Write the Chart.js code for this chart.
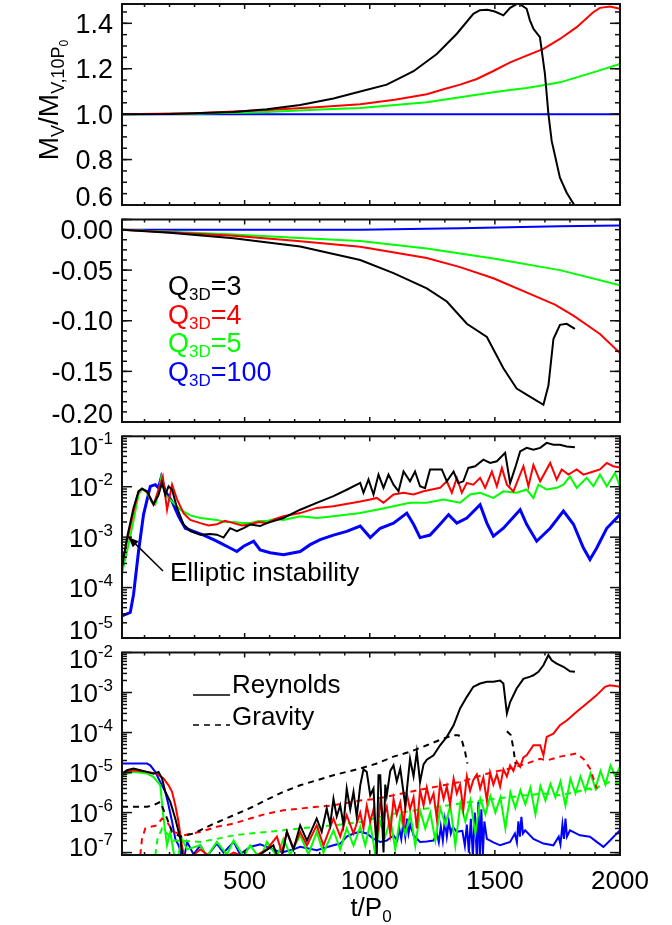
<!DOCTYPE html>
<html>
<head>
<meta charset="utf-8">
<script src="https://cdn.jsdelivr.net/npm/chart.js@4.4.1/dist/chart.umd.min.js"></script>
<style>
  html, body { margin: 0; padding: 0; background: #fff; }
  #wrap { position: relative; width: 672px; height: 925px; }
  canvas { position: absolute; left: 0; }
</style>
</head>
<body>
<div id="wrap">
  <canvas id="c1" width="672" height="215" style="top:0px"></canvas>
  <canvas id="c2" width="672" height="215" style="top:215px"></canvas>
  <canvas id="c3" width="672" height="215" style="top:430px"></canvas>
  <canvas id="c4" width="672" height="280" style="top:645px"></canvas>
</div>
<script>
// ---- tick labels ----
const timeTicks = [500, 1000, 1500, 2000];
const massTicks = [0.6, 0.8, 1.0, 1.2, 1.4];
const massTickLabels = ['0.6', '0.8', '1.0', '1.2', '1.4'];
const roTicks = [0, -0.05, -0.10, -0.15, -0.20];
const roTickLabels = ['0.00', '-0.05', '-0.10', '-0.15', '-0.20'];
const vzDecades = [-5, -4, -3, -2, -1];
const alphaDecades = [-7, -6, -5, -4, -3, -2];
const qLabels = ['3', '4', '5', '100'];

// ---- panel 1: M_V / M_V,10P0 ----
const massT3 = [10, 200, 456, 589, 722, 855, 962, 1068, 1175, 1268, 1348, 1414, 1440, 1470, 1500, 1534, 1561, 1594, 1627, 1640, 1654, 1680, 1700, 1714, 1727, 1760, 1787, 1820];
const mass3 = [1.0, 1.001, 1.01, 1.022, 1.04, 1.069, 1.10, 1.13, 1.189, 1.265, 1.354, 1.442, 1.458, 1.46, 1.452, 1.435, 1.468, 1.489, 1.464, 1.413, 1.376, 1.339, 1.177, 1.0, 0.882, 0.72, 0.654, 0.595];
const massT4 = [10, 300, 589, 800, 962, 1100, 1228, 1295, 1361, 1428, 1494, 1561, 1627, 1694, 1760, 1827, 1893, 1920, 1960, 2000];
const mass4 = [1.0, 1.004, 1.018, 1.032, 1.044, 1.063, 1.088, 1.11, 1.13, 1.155, 1.19, 1.228, 1.258, 1.287, 1.331, 1.383, 1.449, 1.468, 1.474, 1.464];
const massT5 = [10, 300, 589, 800, 962, 1228, 1494, 1561, 1627, 1694, 1760, 1827, 1893, 2000];
const mass5 = [1.0, 1.002, 1.01, 1.02, 1.027, 1.052, 1.096, 1.106, 1.115, 1.127, 1.14, 1.162, 1.184, 1.221];
const massT100 = [10, 2000];
const mass100 = [1.0, 1.0];

// ---- panel 2: <Ro> ----
const roT3 = [10, 200, 456, 722, 962, 1095, 1228, 1308, 1388, 1468, 1534, 1587, 1640, 1694, 1714, 1734, 1760, 1787, 1820];
const ro3 = [-0.0102, -0.013, -0.0185, -0.0267, -0.040, -0.053, -0.068, -0.081, -0.103, -0.116, -0.147, -0.167, -0.175, -0.183, -0.164, -0.118, -0.104, -0.103, -0.108];
const roT4 = [10, 456, 700, 962, 1228, 1361, 1494, 1654, 1740, 1814, 1920, 2000];
const ro4 = [-0.0102, -0.016, -0.021, -0.027, -0.038, -0.047, -0.058, -0.075, -0.084, -0.095, -0.113, -0.132];
const roT5 = [10, 456, 700, 962, 1228, 1494, 1760, 2000];
const ro5 = [-0.0102, -0.0147, -0.018, -0.0213, -0.0286, -0.0385, -0.05, -0.065];
const roT100 = [10, 500, 962, 1361, 1760, 2000];
const ro100 = [-0.0102, -0.0102, -0.0102, -0.0086, -0.0066, -0.0059];

// ---- panel 3: <vz^2>^1/2 / cs ----
const vzT3 = [10, 30, 56, 76, 90, 110, 136, 156, 170, 183, 196, 210, 230, 256, 283, 323, 363, 389, 416, 442, 469, 496, 522, 562, 589, 655, 722, 788, 855, 908, 962, 975, 995, 1015, 1035, 1055, 1075, 1095, 1115, 1135, 1161, 1181, 1201, 1221, 1241, 1268, 1288, 1308, 1335, 1354, 1374, 1394, 1421, 1454, 1481, 1508, 1541, 1561, 1581, 1601, 1627, 1654, 1681, 1707, 1734, 1760, 1787, 1820];
const vz3 = [2.5e-4, 9.8e-4, 3.8e-3, 8.1e-3, 9.1e-3, 8.1e-3, 4.5e-3, 6.9e-3, 1.2e-2, 6.9e-3, 1.02e-2, 8.7e-3, 3.8e-3, 1.78e-3, 1.32e-3, 1.12e-3, 1.15e-3, 1.12e-3, 9.8e-4, 1.51e-3, 1.32e-3, 1.51e-3, 1.78e-3, 1.66e-3, 1.9e-3, 2.4e-3, 3.5e-3, 4.8e-3, 6.5e-3, 8.7e-3, 1.19e-2, 7.6e-3, 1.39e-2, 7.0e-3, 1.74e-2, 9.5e-3, 1.74e-2, 1.1e-2, 8.1e-3, 2.0e-2, 1.28e-2, 2.0e-2, 1.02e-2, 9.4e-3, 2.2e-2, 2.2e-2, 2.2e-2, 1.28e-2, 2.0e-2, 1.18e-2, 1.28e-2, 2.36e-2, 2.55e-2, 3.45e-2, 2.96e-2, 3.2e-2, 4.7e-2, 1.18e-2, 2.36e-2, 5.0e-2, 5.9e-2, 5.4e-2, 5.9e-2, 7.4e-2, 6.8e-2, 6.8e-2, 6.3e-2, 6.05e-2];
const vzT4 = [10, 30, 56, 76, 90, 110, 136, 173, 190, 210, 230, 256, 283, 323, 356, 389, 422, 456, 489, 522, 556, 589, 622, 655, 722, 788, 855, 962, 1002, 1028, 1055, 1095, 1135, 1175, 1215, 1248, 1281, 1308, 1328, 1348, 1368, 1388, 1414, 1441, 1461, 1488, 1508, 1528, 1548, 1574, 1614, 1634, 1654, 1681, 1721, 1747, 1767, 1794, 1827, 1854, 1894, 1920, 1947, 1973, 2000];
const vz4 = [2.9e-4, 8.3e-4, 3.2e-3, 8.1e-3, 9.1e-3, 7.9e-3, 4.4e-3, 1.6e-2, 3.5e-3, 1.1e-2, 5.6e-3, 3.0e-3, 2.2e-3, 1.9e-3, 1.7e-3, 1.8e-3, 2.1e-3, 1.9e-3, 1.7e-3, 1.8e-3, 2.0e-3, 1.9e-3, 2.3e-3, 2.6e-3, 3.0e-3, 3.8e-3, 4.1e-3, 5.1e-3, 5.6e-3, 6.0e-3, 4.8e-3, 7.0e-3, 7.6e-3, 7.0e-3, 8.1e-3, 8.8e-3, 9.5e-3, 1.28e-2, 7.6e-3, 1.5e-2, 7.6e-3, 1.19e-2, 1.1e-2, 1.5e-2, 9.5e-3, 2.0e-2, 1.02e-2, 2.36e-2, 1.1e-2, 8.1e-3, 2.55e-2, 1.02e-2, 2.7e-2, 1.28e-2, 2.96e-2, 1.39e-2, 2.2e-2, 1.74e-2, 2.2e-2, 1.74e-2, 2.0e-2, 2.2e-2, 2.96e-2, 2.55e-2, 2.4e-2];
const vzT5 = [10, 30, 56, 76, 90, 110, 130, 143, 156, 167, 183, 210, 243, 283, 323, 356, 389, 422, 456, 489, 522, 556, 589, 622, 655, 722, 788, 855, 962, 1028, 1095, 1161, 1228, 1295, 1361, 1401, 1441, 1494, 1534, 1587, 1627, 1654, 1674, 1707, 1747, 1774, 1800, 1827, 1867, 1894, 1920, 1947, 1980, 2000];
const vz5 = [1.95e-4, 5.2e-4, 2.1e-3, 6.9e-3, 9.1e-3, 7.6e-3, 4.8e-3, 4.4e-3, 7.6e-3, 1.54e-2, 6.9e-3, 5.1e-3, 3.5e-3, 2.7e-3, 2.4e-3, 2.3e-3, 2.2e-3, 2.0e-3, 2.0e-3, 1.9e-3, 1.9e-3, 2.1e-3, 2.1e-3, 2.3e-3, 2.2e-3, 2.6e-3, 2.4e-3, 2.6e-3, 3.0e-3, 3.5e-3, 4.1e-3, 4.8e-3, 4.8e-3, 5.6e-3, 4.8e-3, 7.0e-3, 7.6e-3, 6.0e-3, 8.1e-3, 7.6e-3, 8.8e-3, 6.0e-3, 1.1e-2, 8.8e-3, 9.5e-3, 1.1e-2, 1.6e-2, 9.5e-3, 1.5e-2, 1.02e-2, 1.74e-2, 1.02e-2, 1.88e-2, 1.02e-2];
const vzT100 = [10, 43, 56, 76, 96, 123, 143, 156, 167, 183, 210, 236, 263, 296, 336, 376, 402, 442, 469, 496, 536, 562, 602, 655, 722, 762, 802, 855, 908, 962, 1002, 1042, 1095, 1148, 1175, 1201, 1241, 1281, 1315, 1348, 1388, 1441, 1468, 1494, 1534, 1601, 1627, 1667, 1721, 1774, 1814, 1854, 1880, 1907, 1947, 2000];
const vz100 = [2.75e-5, 3.2e-5, 7.2e-5, 5.2e-4, 2.8e-3, 1.02e-2, 1.1e-2, 9.5e-3, 1.54e-2, 8.1e-3, 5.1e-3, 2.6e-3, 1.5e-3, 1.3e-3, 1.1e-3, 8.9e-4, 7.7e-4, 6.1e-4, 5.2e-4, 6.6e-4, 8.3e-4, 5.6e-4, 4.9e-4, 4.5e-4, 5.2e-4, 7.1e-4, 8.9e-4, 1.1e-3, 1.3e-3, 1.66e-3, 9.8e-4, 1.5e-3, 1.9e-3, 3.0e-3, 1.8e-3, 9.8e-4, 1.1e-3, 1.8e-3, 2.8e-3, 1.9e-3, 2.4e-3, 4.4e-3, 1.9e-3, 1.05e-3, 1.5e-3, 3.5e-3, 1.8e-3, 8.3e-4, 1.5e-3, 3.3e-3, 1.8e-3, 6.1e-4, 3.6e-4, 6.1e-4, 1.5e-3, 2.8e-3];

// ---- panel 4: <alpha_R,G> (Reynolds solid, Gravity dashed) ----
const reyT3 = [10, 30, 56, 83, 110, 136, 156, 170, 183, 203, 223, 243, 256, 323, 456, 562, 615, 642, 669, 695, 722, 749, 788, 808, 828, 842, 855, 868, 882, 895, 908, 922, 935, 948, 962, 975, 988, 1002, 1015, 1028, 1035, 1042, 1055, 1062, 1068, 1082, 1095, 1108, 1122, 1142, 1161, 1175, 1188, 1201, 1215, 1228, 1255, 1281, 1308, 1335, 1361, 1388, 1414, 1441, 1468, 1494, 1521, 1534, 1548, 1561, 1587, 1614, 1641, 1654, 1674, 1694, 1714, 1727, 1747, 1774, 1800, 1820];
const rey3 = [9.4e-6, 1.14e-5, 1.26e-5, 1.14e-5, 1.04e-5, 9.4e-6, 1.04e-5, 7.1e-6, 3.3e-6, 1.85e-6, 7.1e-7, 2.2e-7, 5e-8, 6e-8, 5e-8, 9e-8, 1.52e-7, 5e-8, 3.3e-7, 1.2e-7, 4.8e-7, 2.0e-7, 7.1e-7, 3.3e-7, 1.26e-6, 5e-7, 2.2e-6, 8e-7, 1.52e-6, 5e-7, 4.0e-6, 1.2e-6, 3.3e-6, 8e-7, 4.8e-6, 1.2e-5, 1.04e-5, 2.7e-6, 4.0e-6, 8.6e-8, 8.6e-6, 8.6e-6, 1e-7, 5e-6, 2.7e-6, 1.1e-5, 1.52e-5, 6e-6, 1.26e-5, 1.5e-6, 2.2e-5, 8e-6, 3.3e-5, 5.8e-6, 1.6e-5, 2.1e-5, 2.7e-5, 4.8e-5, 7.8e-5, 1.52e-4, 4.0e-4, 7.8e-4, 1.39e-3, 1.68e-3, 1.85e-3, 1.85e-3, 2.0e-3, 1.68e-3, 3.0e-4, 5.8e-4, 1.26e-3, 2.2e-3, 2.5e-3, 2.7e-3, 3.3e-3, 4.8e-3, 8.6e-3, 6.4e-3, 5.3e-3, 4.4e-3, 3.4e-3, 3.3e-3];
const gravT3 = [10, 56, 110, 136, 163, 190, 210, 243, 296, 363, 456, 522, 589, 655, 722, 788, 855, 908, 962, 1028, 1095, 1161, 1228, 1295, 1335, 1355, 1368, 1381, 1390];
const grav3 = [1.39e-6, 1.39e-6, 1.39e-6, 1.52e-6, 1.85e-6, 7.1e-7, 3.3e-7, 2.5e-7, 3.0e-7, 4.8e-7, 8.6e-7, 1.3e-6, 2.1e-6, 3.3e-6, 4.8e-6, 6.4e-6, 8.6e-6, 1.04e-5, 1.26e-5, 1.68e-5, 2.5e-5, 3.3e-5, 4.8e-5, 7.1e-5, 8.6e-5, 8.6e-5, 6.4e-5, 3.3e-5, 1.68e-5];
const gravT3b = [1548, 1564, 1574, 1582];
const grav3b = [1.08e-4, 8.6e-5, 4.0e-5, 1.68e-5];
const reyT4 = [10, 56, 110, 150, 176, 196, 210, 223, 236, 249, 263, 323, 389, 456, 522, 589, 629, 649, 669, 695, 722, 749, 788, 815, 855, 882, 908, 935,
  962, 975, 988, 1002, 1015, 1028, 1042, 1055, 1068, 1082, 1095, 1108, 1122, 1135, 1148, 1161, 1175, 1188, 1201, 1215, 1228, 1241, 1255, 1268, 1281, 1295, 1308, 1321, 1335, 1348, 1361, 1374, 1388, 1401, 1414, 1428, 1441, 1454, 1468, 1481, 1494, 1508, 1521, 1534, 1548, 1561, 1574, 1587, 1601, 1614, 1627,
  1654, 1681, 1694, 1707, 1734, 1760, 1787, 1827, 1867, 1907, 1940, 1960, 1980, 2000];
const rey4 = [9.4e-6, 1.14e-5, 1.04e-5, 9.4e-6, 7.1e-6, 4.8e-6, 3.3e-6, 1.52e-6, 5.8e-7, 1.52e-7, 6e-8, 1.2e-7, 6e-8, 1e-7, 7e-8, 1.2e-7, 2.5e-7, 1e-7, 3.3e-7, 1.3e-7, 3.3e-7, 1.5e-7, 4.8e-7, 1.5e-7, 7.1e-7, 2.5e-7, 8.6e-7, 3e-7,
  1.0e-6, 4e-7, 1.5e-6, 6e-7, 1.2e-6, 2e-7, 1.8e-6, 8e-7, 1.4e-6, 3e-7, 2.2e-6, 9e-7, 1.8e-6, 5e-7, 3.0e-6, 1.2e-6, 2.4e-6, 4e-7, 3.6e-6, 1.5e-6, 4.2e-6, 1.8e-6, 3.0e-6, 7e-7, 5.5e-6, 2.2e-6, 4.5e-6, 1.6e-6, 7.0e-6, 3.0e-6, 5.0e-6, 1.2e-6, 8.0e-6, 3.5e-6, 6.5e-6, 9.0e-6, 4.0e-6, 7.5e-6, 2.0e-6, 1.0e-5, 5.0e-6, 9.0e-6, 4.5e-6, 1.2e-5, 8.0e-6, 1.5e-5, 1.1e-5, 1.9e-5, 1.4e-5, 2.4e-5, 2.7e-5,
  4.8e-5, 4.8e-5, 2.7e-5, 7.8e-5, 9.4e-5, 1.52e-4, 2.0e-4, 3.3e-4, 5.3e-4, 8.6e-4, 1.39e-3, 1.52e-3, 1.45e-3, 1.39e-3];
const gravT4 = [83, 90, 103, 123, 150, 170, 190, 216, 256, 323, 389, 456, 522, 589, 655, 722, 788, 855, 962, 1028, 1095, 1161, 1228, 1295, 1361, 1428, 1494, 1561, 1627, 1681, 1707, 1760, 1827, 1854, 1880, 1894, 1907];
const grav4 = [8.6e-8, 2.2e-7, 4.0e-7, 4.4e-7, 4.8e-7, 7.1e-7, 5.8e-7, 3.3e-7, 2.7e-7, 3.3e-7, 4.4e-7, 5.3e-7, 7.1e-7, 9.4e-7, 1.14e-6, 1.26e-6, 1.39e-6, 1.52e-6, 2.0e-6, 2.2e-6, 2.7e-6, 3.3e-6, 4.0e-6, 4.8e-6, 5.8e-6, 7.8e-6, 1.04e-5, 1.26e-5, 1.68e-5, 2.2e-5, 2.0e-5, 2.5e-5, 3.0e-5, 2.2e-5, 1.26e-5, 7.1e-6, 4.0e-6];
const reyT5 = [10, 56, 110, 136, 163, 176, 190, 203, 216, 230, 249, 270, 323, 349, 389, 429, 456, 496, 522, 562, 589, 629, 655, 682, 722, 755, 788, 815, 855, 882, 908, 935,
  962, 982, 1002, 1022, 1042, 1062, 1082, 1102, 1122, 1142, 1162, 1182, 1202, 1222, 1242, 1262, 1282, 1302, 1322, 1342, 1362, 1382, 1402, 1422, 1442, 1462, 1482, 1502, 1522, 1542, 1562, 1582, 1602, 1622, 1642, 1662, 1682, 1702, 1722, 1742, 1762, 1782, 1802, 1822, 1842, 1862, 1882, 1902, 1922, 1942, 1962, 1982, 2000];
const rey5 = [8.6e-6, 1.04e-5, 9.4e-6, 7.8e-6, 4.8e-6, 7.1e-7, 1.52e-7, 3.3e-7, 1.04e-7, 6e-8, 2.2e-7, 1.2e-7, 1.52e-7, 8e-8, 1.85e-7, 9e-8, 2.0e-7, 8e-8, 1.52e-7, 7e-8, 1.85e-7, 8e-8, 2.2e-7, 9e-8, 2.7e-7, 9e-8, 3.3e-7, 1e-7, 3.6e-7, 1.2e-7, 4e-7, 1.5e-7,
  4.4e-7, 1.5e-7, 5.5e-7, 9e-8, 6e-7, 2.5e-7, 7e-7, 1.2e-7, 8e-7, 3e-7, 9e-7, 1.5e-7, 1.1e-6, 4e-7, 1.0e-6, 2e-7, 1.3e-6, 5e-7, 1.5e-6, 1.5e-7, 1.7e-6, 6e-7, 2.0e-6, 3e-7, 2.2e-6, 9e-7, 2.6e-6, 1.0e-6, 2.4e-6, 4e-7, 3.2e-6, 1.3e-6, 3.6e-6, 1.6e-6, 4.2e-6, 9e-7, 4.6e-6, 2.0e-6, 5.2e-6, 2.4e-6, 6.0e-6, 1.5e-6, 7.0e-6, 3.0e-6, 8.0e-6, 3.5e-6, 9.5e-6, 4.0e-6, 1.1e-5, 5.0e-6, 1.5e-5, 8.0e-6, 1.4e-5];
const gravT5 = [143, 152, 170, 190, 216, 323, 389, 456, 522, 589, 655, 722, 788, 855, 962, 1095, 1228, 1361, 1494, 1627, 1694, 1760, 1827, 1880, 1894, 1920, 1960, 2000];
const grav5 = [8.6e-8, 2.2e-7, 4.0e-7, 3.0e-7, 2.0e-7, 1.85e-7, 2.2e-7, 2.7e-7, 3.0e-7, 3.3e-7, 3.6e-7, 4.0e-7, 4.4e-7, 4.8e-7, 5.8e-7, 9.4e-7, 1.26e-6, 1.68e-6, 2.2e-6, 2.7e-6, 3.0e-6, 2.7e-6, 3.3e-6, 4.0e-6, 3.3e-6, 4.8e-6, 5.8e-6, 5.3e-6];
const reyT100 = [10, 56, 110, 123, 143, 163, 183, 196, 210, 223, 236, 256, 270, 296, 323, 349, 389, 416, 456, 482, 522, 562, 589, 629, 655, 695, 722, 788, 855, 882, 908, 935,
  962, 988, 1015, 1042, 1068, 1095, 1110, 1118, 1126, 1134, 1142, 1148, 1155, 1162, 1175, 1201, 1228, 1255, 1268, 1276, 1284, 1292, 1300, 1308, 1316, 1324, 1332, 1348, 1370, 1380, 1388, 1396, 1404, 1412, 1420, 1428, 1434, 1440, 1446, 1452, 1458, 1468, 1494, 1521, 1561, 1580, 1588, 1594, 1600, 1606, 1612, 1621, 1654, 1694, 1734, 1755, 1762, 1770, 1776, 1782, 1788, 1800, 1840, 1880, 1907, 1934, 1960, 1980, 2000];
const rey100 = [1.68e-5, 1.68e-5, 1.68e-5, 1.52e-5, 1.04e-5, 5.8e-6, 3.3e-6, 1.52e-6, 6e-7, 2.2e-7, 1.52e-7, 6e-8, 1.85e-7, 9e-8, 1.52e-7, 8e-8, 1.68e-7, 1e-7, 1.85e-7, 9e-8, 1.39e-7, 1.6e-7, 1.39e-7, 1.1e-7, 1.04e-7, 1.2e-7, 1.39e-7, 1.14e-7, 1.52e-7, 1.68e-7, 2.5e-7, 3.0e-7,
  3.3e-7, 3.0e-7, 2.2e-7, 1.85e-7, 2.0e-7, 2.7e-7, 2e-7, 4e-7, 2.2e-7, 5.5e-7, 2.5e-7, 7.1e-7, 3e-7, 5e-7, 2.7e-7, 1.85e-7, 1.9e-7, 2.0e-7, 3e-7, 1.8e-7, 4.5e-7, 2e-7, 6.5e-7, 2.5e-7, 6e-7, 3e-7, 4.4e-7, 3.3e-7, 3.5e-7, 1.5e-7, 5e-7, 1e-7, 7e-7, 8e-8, 1.0e-6, 7e-8, 1.85e-6, 8e-8, 1.2e-6, 9e-8, 6e-7, 2.2e-7, 1.8e-7, 1.52e-7, 1.85e-7, 3e-7, 1.8e-7, 6e-7, 2.5e-7, 7.8e-7, 3e-7, 3.6e-7, 2.2e-7, 1.68e-7, 1.52e-7, 2.5e-7, 1.6e-7, 5e-7, 2.2e-7, 7.1e-7, 2.5e-7, 3.6e-7, 2.7e-7, 2.5e-7, 1.85e-7, 1.39e-7, 2.0e-7, 2.7e-7, 3.6e-7];

const BLACK = '#000000', RED = '#ff0000', GREEN = '#00ff00', BLUE = '#0000ff';
const FONT = '"Liberation Sans", Arial, Helvetica, sans-serif';

function zip(ts, vs) { return ts.map((t, i) => ({ x: t, y: vs[i] })); }

function line(ts, vs, color, dashed, width) {
  return {
    data: zip(ts, vs),
    borderColor: color,
    borderWidth: width || 2,
    borderDash: dashed ? [6, 5] : [],
    pointRadius: 0,
    tension: 0
  };
}

// draw text made of parts {t, s, dy, c, keep}
function richWidth(ctx, parts) {
  let w = 0;
  parts.forEach(p => { ctx.font = p.s + 'px ' + FONT; if (!p.keep) w += ctx.measureText(p.t).width; });
  return w;
}
function drawRich(ctx, parts, x, y, align) {
  const w = richWidth(ctx, parts);
  let cx = align === 'right' ? x - w : align === 'center' ? x - w / 2 : x;
  ctx.textAlign = 'left';
  ctx.textBaseline = 'alphabetic';
  parts.forEach(p => {
    ctx.font = p.s + 'px ' + FONT;
    ctx.fillStyle = p.c || '#000';
    ctx.fillText(p.t, cx, y + (p.dy || 0));
    if (!p.keep) cx += ctx.measureText(p.t).width;
  });
}

function seg(ctx, x1, y1, x2, y2) {
  ctx.beginPath(); ctx.moveTo(x1, y1); ctx.lineTo(x2, y2); ctx.stroke();
}

// IDL-like box: inward ticks on all sides, labels, rotated title
const framePlugin = {
  id: 'frame',
  afterDatasetsDraw(chart, args, o) {
    const { ctx, chartArea: a, scales: { x, y } } = chart;
    ctx.save();
    ctx.strokeStyle = '#111';
    ctx.lineWidth = 1.5;
    for (let t = 100; t <= 2000; t += 100) {
      const px = x.getPixelForValue(t);
      const L = t % 500 === 0 ? 5 : 3;
      seg(ctx, px, a.bottom, px, a.bottom - L);
      seg(ctx, px, a.top, px, a.top + L);
    }
    o.yMinor.forEach(v => {
      const py = y.getPixelForValue(v);
      seg(ctx, a.left, py, a.left + 5, py);
      seg(ctx, a.right, py, a.right - 5, py);
    });
    o.yMajor.forEach(v => {
      const py = y.getPixelForValue(v);
      seg(ctx, a.left, py, a.left + 10, py);
      seg(ctx, a.right, py, a.right - 10, py);
    });
    ctx.lineWidth = 2;
    ctx.strokeRect(a.left, a.top, a.right - a.left, a.bottom - a.top);

    o.yLabels.forEach(l => {
      let py = y.getPixelForValue(l.v);
      py = Math.min(Math.max(py, a.top + o.clampTop), a.bottom - 9);
      drawRich(ctx, l.parts, a.left - 9, py + 9.5, 'right');
    });

    if (o.xLabels) {
      timeTicks.forEach(t => {
        drawRich(ctx, [{ t: String(t), s: 26 }], x.getPixelForValue(t), a.bottom + 34, 'center');
      });
      drawRich(ctx, [{ t: 't/P', s: 26 }, { t: '0', s: 17, dy: 6 }], (a.left + a.right) / 2, a.bottom + 61, 'center');
    }

    ctx.save();
    ctx.translate(o.titleX, o.titleY);
    ctx.rotate(-Math.PI / 2);
    drawRich(ctx, o.title, 0, 0, 'center');
    ctx.restore();

    if (o.extra) o.extra(chart);
    ctx.restore();
  }
};

function linTicks(min, max, step) {
  const out = [];
  for (let v = min; v <= max + 1e-9; v += step) out.push(+v.toFixed(4));
  return out;
}
function logMinor(d0, d1) {
  const out = [];
  for (let d = d0; d < d1; d++) for (let k = 2; k <= 9; k++) out.push(k * Math.pow(10, d));
  return out;
}
function expLabel(d) {
  return { v: Math.pow(10, d), parts: [{ t: '10', s: 26 }, { t: '-' + (-d), s: 17, dy: -11 }] };
}

function makeChart(id, pad, yType, yMin, yMax, datasets, frame) {
  return new Chart(document.getElementById(id), {
    type: 'line',
    data: { datasets },
    options: {
      responsive: false,
      animation: false,
      events: [],
      layout: { padding: pad },
      plugins: { legend: { display: false }, tooltip: { enabled: false }, frame },
      scales: {
        x: { type: 'linear', min: 10, max: 2000, display: false },
        y: { type: yType, min: yMin, max: yMax, display: false }
      }
    },
    plugins: [framePlugin]
  });
}

// panel 1
makeChart('c1', { left: 122, right: 52, top: 4, bottom: 10 }, 'linear', 0.6, 1.485, [
  line(massT3, mass3, BLACK),
  line(massT4, mass4, RED),
  line(massT5, mass5, GREEN),
  line(massT100, mass100, BLUE)
], {
  yMajor: massTicks,
  yMinor: linTicks(0.6, 1.48, 0.05),
  yLabels: massTicks.map((v, i) => ({ v, parts: [{ t: massTickLabels[i], s: 27 }] })),
  clampTop: 10,
  titleX: 58, titleY: 100,
  title: [{ t: 'M', s: 28 }, { t: 'V', s: 18, dy: 6 }, { t: '/M', s: 28 }, { t: 'V,10P', s: 18, dy: 6 }, { t: '0', s: 12, dy: 10 }]
});

// panel 2
makeChart('c2', { left: 122, right: 52, top: 4.5, bottom: 8 }, 'linear', -0.2, 0, [
  line(roT3, ro3, BLACK),
  line(roT4, ro4, RED),
  line(roT5, ro5, GREEN),
  line(roT100, ro100, BLUE)
], {
  yMajor: roTicks,
  yMinor: linTicks(-0.2, 0, 0.01),
  yLabels: roTicks.map((v, i) => ({ v, parts: [{ t: roTickLabels[i], s: 27 }] })),
  clampTop: 10,
  titleX: 35, titleY: 325,
  title: [{ t: '<Ro>', s: 28 }],
  extra(chart) {
    const ctx = chart.ctx;
    const colors = [BLACK, RED, GREEN, BLUE];
    qLabels.forEach((q, i) => {
      drawRich(ctx, [
        { t: 'Q', s: 27, c: colors[i] },
        { t: '3D', s: 17, dy: 5, c: colors[i] },
        { t: '=' + q, s: 27, c: colors[i] }
      ], 168, 80 + i * 28.5, 'left');
    });
  }
});

// panel 3
makeChart('c3', { left: 122, right: 52, top: 6.3, bottom: 7 }, 'logarithmic', 1e-5, 1e-1, [
  line(vzT3, vz3, BLACK),
  line(vzT4, vz4, RED),
  line(vzT5, vz5, GREEN),
  line(vzT100, vz100, BLUE, false, 3)
], {
  yMajor: vzDecades.map(d => Math.pow(10, d)),
  yMinor: logMinor(-5, -1),
  yLabels: vzDecades.map(expLabel),
  clampTop: 9,
  titleX: 53, titleY: 522,
  title: [{ t: '<v', s: 28 }, { t: '2', s: 17, dy: -12, keep: true }, { t: 'z', s: 17, dy: 6 },
          { t: '>', s: 28 }, { t: '1/2', s: 17, dy: -12 }, { t: '/c', s: 28 }, { t: 's', s: 17, dy: 6 }],
  extra(chart) {
    const ctx = chart.ctx;
    const tipX = chart.scales.x.getPixelForValue(36);
    const tipY = chart.scales.y.getPixelForValue(1e-3);
    const sx = 163, sy = 141;
    ctx.strokeStyle = '#000';
    ctx.lineWidth = 1.5;
    seg(ctx, sx, sy, tipX, tipY);
    const ang = Math.atan2(tipY - sy, tipX - sx);
    ctx.beginPath();
    ctx.moveTo(tipX, tipY);
    ctx.lineTo(tipX - 11 * Math.cos(ang - 0.4), tipY - 11 * Math.sin(ang - 0.4));
    ctx.lineTo(tipX - 11 * Math.cos(ang + 0.4), tipY - 11 * Math.sin(ang + 0.4));
    ctx.closePath();
    ctx.fillStyle = '#000';
    ctx.fill();
    drawRich(ctx, [{ t: 'Elliptic instability', s: 26 }], 170, 151, 'left');
  }
});

// panel 4
makeChart('c4', { left: 122, right: 52, top: 7.5, bottom: 70 }, 'logarithmic', 8.7e-8, 1e-2, [
  line(reyT3, rey3, BLACK),
  line(gravT3, grav3, BLACK, true),
  line(gravT3b, grav3b, BLACK, true),
  line(reyT4, rey4, RED),
  line(gravT4, grav4, RED, true),
  line(reyT5, rey5, GREEN),
  line(gravT5, grav5, GREEN, true),
  line(reyT100, rey100, BLUE)
], {
  yMajor: alphaDecades.map(d => Math.pow(10, d)),
  yMinor: logMinor(-7, -2).concat([9e-8]),
  yLabels: alphaDecades.map(expLabel),
  clampTop: 6,
  titleX: 50, titleY: 750,
  title: [{ t: '<', s: 28 }, { t: '\u03b1', s: 28 }, { t: 'R,G', s: 17, dy: 6 }, { t: '>', s: 28 }],
  xLabels: true,
  extra(chart) {
    const ctx = chart.ctx;
    ctx.strokeStyle = '#000';
    ctx.lineWidth = 1.5;
    seg(ctx, 193, 50, 230, 50);
    ctx.setLineDash([6, 5]);
    seg(ctx, 193, 80, 230, 80);
    ctx.setLineDash([]);
    drawRich(ctx, [{ t: 'Reynolds', s: 26 }], 232, 48, 'left');
    drawRich(ctx, [{ t: 'Gravity', s: 26 }], 232, 80, 'left');
  }
});
</script>
</body>
</html>
